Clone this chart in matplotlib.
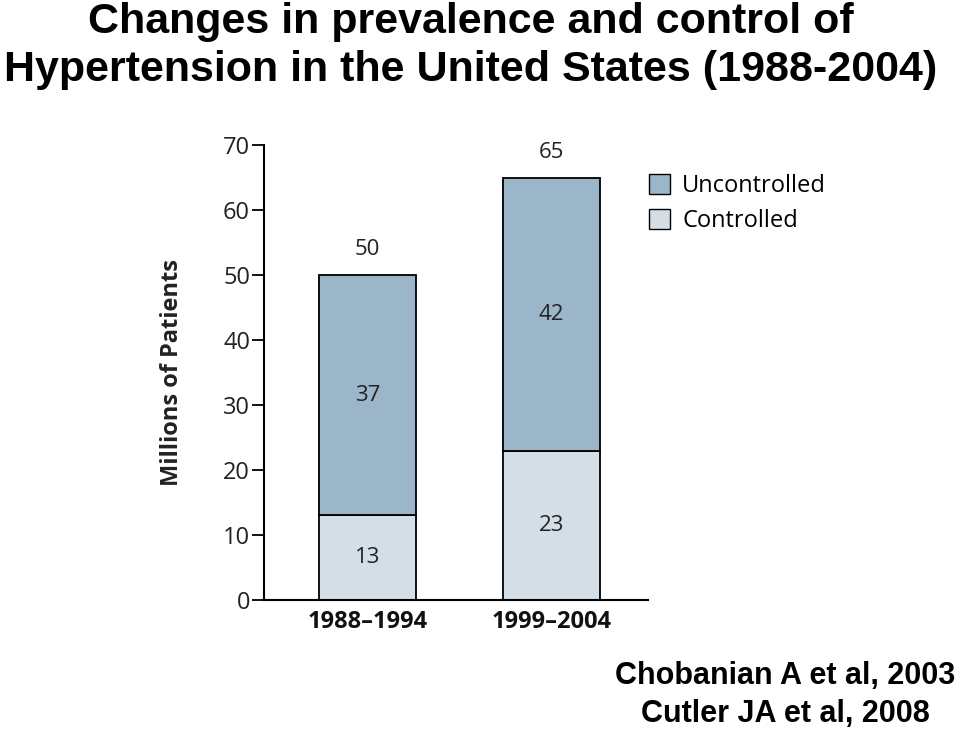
import matplotlib
matplotlib.use("Agg")
import matplotlib.pyplot as plt
from matplotlib.patches import Patch

periods = ["1988\u20131994", "1999\u20132004"]
controlled = [13, 23]
uncontrolled = [37, 42]
totals = [50, 65]
yticks = [0, 10, 20, 30, 40, 50, 60, 70]

c_unc = "#9bb5c9"
c_con = "#d3dee6"
txt = "#222222"
body_font = "Open Sans"

fig = plt.figure(figsize=(9.6, 7.29), dpi=100)
ax = fig.add_axes([0.275, 0.177, 0.400, 0.624])

x = [0, 1]
w = 0.527
ax.bar(x, controlled, w, color=c_con, edgecolor="black", linewidth=1.3)
ax.bar(x, uncontrolled, w, bottom=controlled, color=c_unc, edgecolor="black", linewidth=1.3)

for i in x:
    ax.text(i, controlled[i] / 2, str(controlled[i]), ha="center", va="center",
            fontsize=16, family=body_font, color=txt)
    ax.text(i, controlled[i] + uncontrolled[i] / 2, str(uncontrolled[i]), ha="center",
            va="center", fontsize=16, family=body_font, color=txt)
    ax.text(i, totals[i] + 2.3, str(totals[i]), ha="center", va="bottom",
            fontsize=16, family=body_font, color=txt)

ax.set_xlim(-0.5625, 1.524)
ax.set_ylim(0, 70)
ax.set_yticks(yticks)
ax.set_xticks(x)
ax.set_xticklabels(periods, fontsize=17, family=body_font, color="#111111", fontweight="bold")
for lab in ax.get_yticklabels():
    lab.set_fontsize(17)
    lab.set_family(body_font)
    lab.set_color(txt)
ax.tick_params(axis="y", length=9, width=1.3, pad=1)
ax.tick_params(axis="x", length=0, pad=7)
ax.spines["top"].set_visible(False)
ax.spines["right"].set_visible(False)
ax.spines["left"].set_linewidth(1.5)
ax.spines["bottom"].set_linewidth(1.5)
ax.set_ylabel("Millions of Patients", fontsize=17, family=body_font,
              fontweight="bold", color=txt, labelpad=28)

handles = [Patch(facecolor=c_unc, edgecolor="black", label="Uncontrolled"),
           Patch(facecolor=c_con, edgecolor="black", label="Controlled")]
fig.legend(handles=handles, loc="upper left", bbox_to_anchor=(0.654, 0.79),
           frameon=False, prop={"family": body_font, "size": 17},
           handlelength=0.9, handleheight=0.9, handletextpad=0.5, labelspacing=0.45)

fig.text(0.49, 0.997, "Changes in prevalence and control of\nHypertension in the United States (1988-2004)",
         ha="center", va="top", fontsize=31, fontweight="bold",
         family="Liberation Sans", linespacing=1.25)
fig.text(0.995, 0.0, "Chobanian A et al, 2003\nCutler JA et al, 2008",
         ha="right", va="bottom", fontsize=22, fontweight="bold",
         family="Liberation Sans", multialignment="center", linespacing=1.35)

fig.savefig("out.png", dpi=100)
